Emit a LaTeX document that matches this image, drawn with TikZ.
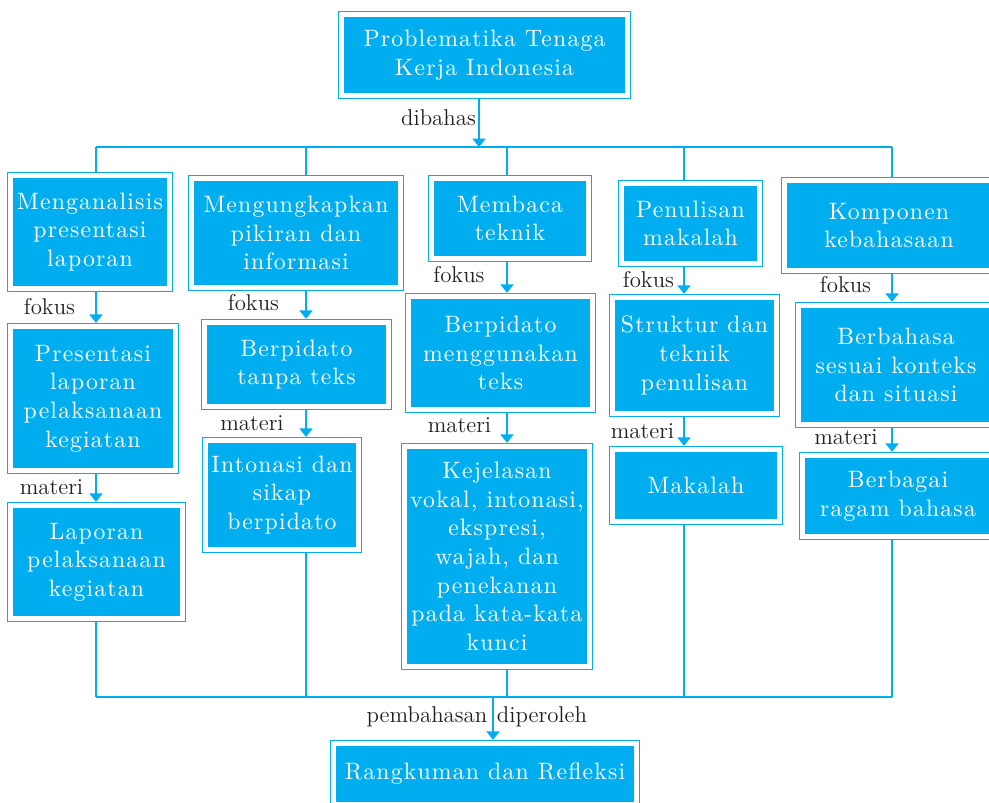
\documentclass[tikz,border=0pt]{standalone}
\usepackage{fontspec}
\usepackage{tikz}
\usetikzlibrary{arrows.meta,positioning}
\newfontfamily\boxfont{lmroman10-regular}[Extension=.otf,LetterSpace=5]
\definecolor{bkcyan}{RGB}{0,174,239}
\definecolor{bkdark}{RGB}{35,31,32}

\begin{document}
\begin{tikzpicture}[x=0.02cm,y=-0.02cm,
  bx/.style={draw=bkcyan,double=white,double distance=2.8pt,line width=0.65pt,fill=bkcyan,text=white,align=center,inner sep=0pt,outer sep=2.1pt,font=\boxfont\fontsize{13.5}{16.3}\selectfont},
  lbl/.style={text=bkdark,inner sep=0pt,font=\fontsize{13}{15}\selectfont},
  ln/.style={bkcyan,line width=0.7pt},
  arr/.style={ln,-{Triangle[width=7.5pt,length=4.8pt]}}
]
\useasboundingbox (0,0) rectangle (989,802);

\node[bx,minimum width=5.72cm,minimum height=1.62cm] (top) at (484.5,55) {Problematika Tenaga\\Kerja Indonesia};

% column 1
\node[bx,minimum width=3.18cm,minimum height=2.26cm] (a1) at (90,232) {Menganalisis\\presentasi\\laporan};
\node[bx,minimum width=3.30cm,minimum height=2.88cm] (a2) at (93,398.5) {Presentasi\\laporan\\pelaksanaan\\kegiatan};
\node[bx,minimum width=3.44cm,minimum height=2.26cm] (a3) at (96.5,562) {Laporan\\pelaksanaan\\kegiatan};

% column 2
\node[bx,minimum width=4.18cm,minimum height=2.18cm] (b1) at (296,233) {Mengungkapkan\\pikiran dan\\informasi};
\node[bx,minimum width=3.68cm,minimum height=1.68cm] (b2) at (296.5,364.5) {Berpidato\\tanpa teks};
\node[bx,minimum width=3.06cm,minimum height=2.18cm] (b3) at (282,495) {Intonasi dan\\sikap\\berpidato};

% column 3
\node[bx,minimum width=3.14cm,minimum height=1.60cm] (c1) at (510,218.5) {Membaca\\teknik};
\node[bx,minimum width=3.68cm,minimum height=2.26cm] (c2) at (500.5,353) {Berpidato\\menggunakan\\teks};
\node[bx,minimum width=3.70cm,minimum height=4.40cm] (c3) at (497,556.5) {Kejelasan\\vokal, intonasi,\\ekspresi,\\wajah, dan\\penekanan\\pada kata-kata\\kunci};

% column 4
\node[bx,minimum width=2.76cm,minimum height=1.60cm] (d1) at (690.5,223.5) {Penulisan\\makalah};
\node[bx,minimum width=3.28cm,minimum height=2.32cm] (d2) at (694.5,355.5) {Struktur dan\\teknik\\penulisan};
\node[bx,minimum width=3.34cm,minimum height=1.44cm] (d3) at (696,485.5) {Makalah};

% column 5
\node[bx,minimum width=4.18cm,minimum height=1.80cm] (e1) at (889,225.5) {Komponen\\kebahasaan};
\node[bx,minimum width=3.90cm,minimum height=2.38cm] (e2) at (896,365) {Berbahasa\\sesuai konteks\\dan situasi};
\node[bx,minimum width=3.82cm,minimum height=1.62cm] (e3) at (898,496) {Berbagai\\ragam bahasa};

\node[bx,minimum width=6.06cm,minimum height=1.22cm] (rk) at (485,774) {Rangkuman dan Refleksi};

% bus lines
\coordinate (hub) at (479,147);
\coordinate (k1) at (96,147);
\coordinate (k2) at (306,147);
\coordinate (k3) at (507,147);
\coordinate (k4) at (684,147);
\coordinate (k5) at (892,147);
\coordinate (bot) at (493,697);

\draw[arr] (top.south -| hub) -- (hub);
\draw[ln] (k1) -- (k5);
\foreach \k/\n in {k1/a1,k2/b1,k3/c1,k4/d1,k5/e1}
  \draw[ln] (\k) -- (\n.north -| \k);
\foreach \k/\p/\q in {k1/a1/a2,k1/a2/a3,k2/b1/b2,k2/b2/b3,k3/c1/c2,k3/c2/c3,k4/d1/d2,k4/d2/d3,k5/e1/e2,k5/e2/e3}
  \draw[arr] (\p.south -| \k) -- (\q.north -| \k);
\foreach \k/\n in {k1/a3,k2/b3,k3/c3,k4/d3,k5/e3}
  \draw[ln] (\n.south -| \k) -- (\k |- bot);
\draw[ln] (k1 |- bot) -- (k5 |- bot);
\draw[arr] (bot) -- (rk.north -| bot);

% labels
\node[lbl] (dib) at (438.5,118) {dibahas};
\node[lbl] (fa) at (49.5,307) {fokus};
\node[lbl] (ma) at (51.5,487) {materi};
\node[lbl] (fb) at (253.5,303) {fokus};
\node[lbl] (mb) at (252,423) {materi};
\node[lbl] (fc) at (459,275) {fokus};
\node[lbl] (mc) at (459.5,425) {materi};
\node[lbl] (fd) at (648.5,280) {fokus};
\node[lbl] (md) at (642.5,431) {materi};
\node[lbl] (fe) at (845.5,285) {fokus};
\node[lbl] (me) at (846,437) {materi};
\node[lbl] (pb) at (427,717) {pembahasan};
\node[lbl] (dp) at (542,717) {diperoleh};
\end{tikzpicture}
\end{document}
